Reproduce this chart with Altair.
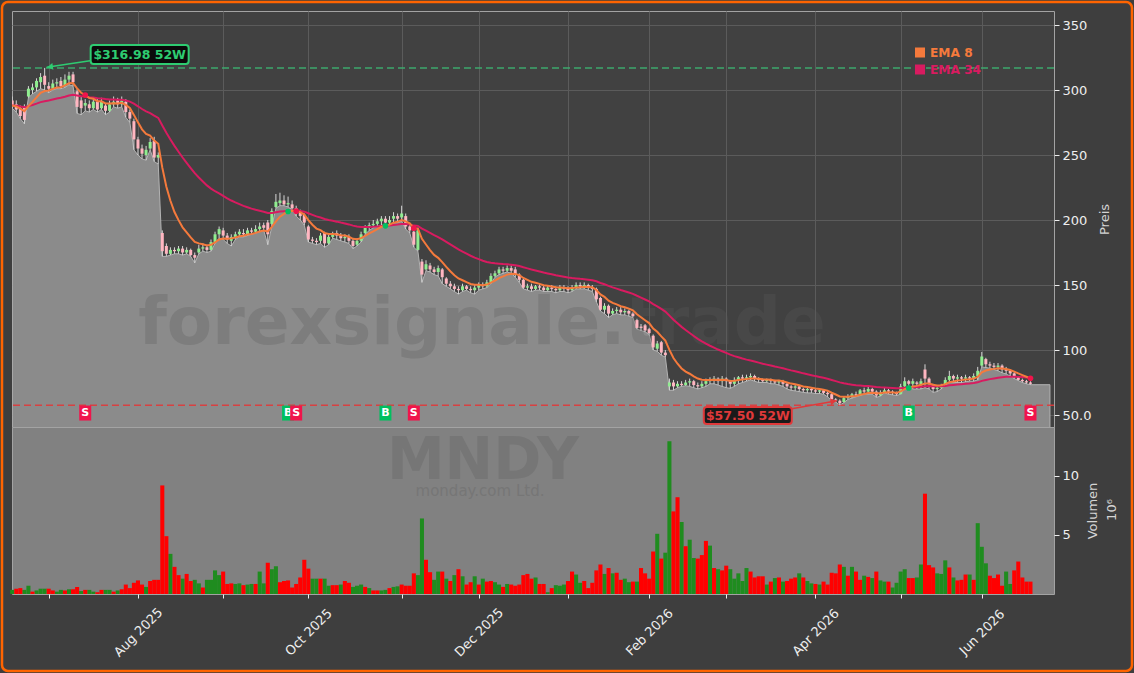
import altair as alt
import pandas as pd
import numpy as np

# ---------------- data ----------------
trade_start = "2025-06-17"
trade_end = "2026-06-17"
market_holidays = ["2025-06-19", "2025-07-04", "2025-09-01", "2025-11-27", "2025-12-25",
                   "2026-01-01", "2026-01-19", "2026-02-16", "2026-04-03", "2026-05-25"]

opens = [
    292, 289, 286, 287, 295, 300, 302, 306, 311, 303,
    301, 305, 307, 303, 308, 312, 299, 292, 288, 289,
    286, 291, 286, 288, 284, 289, 292, 289, 291, 283,
    276, 262, 255, 250, 255, 261, 248, 190, 180, 174,
    177, 176, 178, 175, 177, 173, 175, 178, 179, 177,
    183, 189, 192, 188, 184, 187, 189, 190, 189, 192,
    191, 193, 196, 198, 197, 210, 213, 215, 212, 212,
    209, 207, 204, 195, 185, 184, 184, 190, 182, 187,
    190, 188, 186, 187, 184, 181, 184, 190, 194, 196,
    197, 199, 201, 198, 201, 203, 202, 203, 195, 191,
    177, 168, 162, 165, 162, 160, 162, 155, 151, 149,
    147, 146, 149, 147, 146, 148, 150, 149, 152, 157,
    159, 162, 161, 163, 162, 158, 154, 148, 149, 147,
    149, 148, 146, 148, 147, 146, 148, 147, 146, 148,
    150, 149, 150, 148, 147, 140, 131, 134, 128, 130,
    131, 129, 130, 128, 123, 118, 119, 116, 111, 101,
    106, 98, 72, 75, 72, 74, 73, 75, 76, 73,
    72, 74, 76, 77, 78, 76, 78, 76, 74, 77,
    79, 78, 79, 80, 78, 77, 76, 77, 76, 75,
    76, 74, 72, 71, 72, 70, 69, 70, 69, 68,
    69, 67, 66, 62, 61, 60, 63, 64, 66, 65,
    69, 68, 70, 68, 65, 67, 69, 68, 67, 66,
    72, 76, 74, 75, 73, 85, 78, 73, 70, 71,
    73, 77, 80, 78, 79, 78, 79, 78, 80, 88,
    93, 89, 88, 87, 88, 85, 84, 82, 79, 77,
    76, 75,
]
highs = [
    295, 292, 288, 289, 303, 305, 309, 313, 316.98, 306,
    308, 309, 310, 312, 314, 314, 301, 295, 293, 292,
    294, 293, 294, 290, 292, 295, 294, 295, 293, 285,
    278, 264, 258, 257, 263, 264, 252, 192, 182, 179,
    179, 180, 180, 179, 178, 175, 181, 182, 181, 185,
    191, 195, 194, 190, 189, 191, 193, 193, 194, 194,
    196, 198, 198, 200, 209, 220, 221, 219, 218, 215,
    211, 208, 205, 196, 187, 186, 190, 191, 189, 191,
    192, 190, 189, 189, 186, 186, 191, 196, 198, 200,
    201, 203, 203, 203, 206, 205, 211, 205, 197, 192,
    194, 170, 169, 167, 164, 165, 163, 156, 153, 151,
    149, 151, 150, 149, 150, 152, 152, 154, 159, 161,
    164, 164, 165, 165, 164, 159, 155, 151, 151, 150,
    151, 150, 150, 150, 149, 150, 150, 149, 150, 152,
    152, 152, 151, 150, 148, 141, 136, 135, 132, 133,
    133, 132, 131, 129, 124, 120, 120, 117, 112, 107,
    107, 100, 78, 77, 76, 76, 77, 78, 77, 75,
    76, 78, 79, 80, 79, 80, 79, 77, 79, 80,
    81, 81, 82, 81, 79, 78, 78, 78, 77, 77,
    77, 75, 73, 73, 73, 71, 71, 71, 70, 70,
    70, 68, 67, 63, 62, 64, 66, 67, 68, 70,
    71, 72, 71, 69, 69, 71, 70, 69, 68, 74,
    79, 77, 78, 76, 78, 89, 79, 74, 73, 74,
    79, 84, 81, 81, 80, 81, 80, 82, 87, 98.5,
    94, 91, 90, 90, 89, 87, 85, 83, 80, 78,
    77, 76,
]
lows = [
    286, 283, 278, 274, 294, 297, 299, 301, 300, 298,
    300, 301, 301, 302, 304, 303, 282, 281, 284, 283,
    285, 283, 285, 281, 283, 287, 286, 287, 279, 275,
    254, 250, 247, 246, 254, 245, 243, 172, 172, 173,
    174, 174, 173, 174, 172, 167, 174, 176, 175, 176,
    182, 186, 185, 182, 180, 185, 187, 187, 188, 189,
    190, 191, 192, 181, 195, 209, 211, 211, 210, 208,
    203, 200, 196, 183, 182, 181, 182, 179, 181, 186,
    185, 184, 183, 182, 178, 180, 183, 189, 192, 194,
    195, 196, 196, 196, 198, 198, 199, 193, 190, 179,
    176, 152, 161, 160, 158, 157, 151, 149, 147, 145,
    143, 145, 146, 144, 143, 146, 147, 148, 151, 156,
    158, 159, 160, 159, 156, 152, 147, 146, 145, 146,
    146, 145, 145, 145, 144, 145, 145, 144, 145, 147,
    147, 147, 146, 145, 137, 130, 128, 125, 127, 128,
    127, 127, 126, 125, 116, 115, 114, 112, 100, 99,
    96, 94.5, 69, 69, 71, 72, 72.5, 72, 71, 70,
    71, 72, 74, 74, 73, 72, 71, 70.5, 72, 74,
    75, 76, 77, 76, 75, 75, 75, 74, 74, 73,
    72, 70, 69, 68.5, 68, 67.4, 67, 67, 66.5, 66.5,
    66, 64, 61, 60, 57.5, 59.5, 62, 63, 64, 65,
    66, 66, 66, 63.6, 64.5, 67, 66, 65.5, 65, 66,
    71, 71, 70, 70, 70, 71, 70, 67.4, 68, 70,
    73, 75, 75, 75, 75, 75.6, 76, 76, 77, 87,
    86.5, 86, 85, 84, 82.5, 81.5, 80, 78, 76.5, 75,
    74, 73.3,
]
closes = [
    288, 285, 280, 277, 301, 302, 307, 310, 304, 301,
    305, 306, 303, 308, 311, 306, 287, 286, 290, 286,
    291, 285, 291, 284, 289, 291, 289, 292, 283, 278,
    262, 255, 251, 254, 260, 248, 250, 176, 174, 177,
    176, 178, 175, 177, 173, 171, 178, 179, 177, 183,
    189, 193, 188, 185, 187, 189, 191, 189, 192, 191,
    193, 195, 194, 189, 207, 214, 215, 212, 213, 209,
    206, 203, 198, 185, 184, 183, 188, 182, 187, 189,
    188, 186, 187, 184, 180, 184, 189, 194, 196, 197,
    199, 201, 198, 200, 203, 201, 205, 195, 192, 181,
    192, 158, 166, 162, 160, 163, 156, 151, 149, 147,
    146, 149, 147, 146, 148, 150, 149, 152, 157, 159,
    162, 161, 163, 161, 158, 154, 148, 149, 147, 149,
    148, 146, 148, 147, 146, 148, 147, 146, 148, 150,
    149, 150, 148, 147, 139, 131, 134, 128, 130, 131,
    129, 130, 128, 126, 117, 117, 115, 113, 102, 105,
    98, 96, 75, 72, 74, 73, 75, 76, 73, 72,
    74, 76, 77, 78, 76, 78, 76, 74, 77, 79,
    78, 79, 80, 78, 77, 76, 77, 76, 75, 76,
    74, 72, 71, 72, 70, 69, 70, 69, 68, 69,
    67, 66, 62, 61, 59, 63, 64, 66, 65, 69,
    68, 70, 68, 65, 67, 69, 68, 67, 66, 72,
    76, 74, 76, 74, 76, 78, 74, 70, 71, 73,
    77, 80, 78, 79, 78, 79, 78, 80, 84, 95,
    89, 88, 87, 88, 85, 84, 82, 79, 77, 76,
    75, 74,
]
volumes = [  # in millions
    .35, .45, .5, .35, .7, .2, .3, .45, .45, .45,
    .3, .2, .35, .3, .4, .4, .6, .25, .35, .35,
    .2, .15, .35, .35, .35, .2, .3, .4, .8, .5,
    .95, 1.15, .8, .6, 1.1, 1.2, 1.2, 9.2, 4.9, 3.4,
    2.3, 1.6, 1.3, 1.7, 1.1, 1.2, .9, .55, 1.2, 1.2,
    2.0, 1.6, 1.9, .85, .9, .85, .9, .75, .8, .85,
    .85, 1.9, .9, 2.65, 2.1, 2.35, 1.0, 1.1, 1.15, .55,
    .85, 1.4, 2.9, 2.15, 1.3, 1.3, 1.3, 1.3, .7, .75,
    .75, .8, 1.1, .95, .6, .7, .8, .6, .5, .3,
    .3, .3, .35, .5, .6, .65, .8, .7, .7, 1.75,
    1.6, 6.4, 2.9, 1.85, 1.2, 1.9, 1.9, 1.3, 1.1, 1.6,
    2.1, 1.5, .8, 1.0, 1.5, .8, 1.3, 1.05, 1.1, 1.0,
    .8, .6, .85, .8, .7, .8, 1.6, 1.7, 1.3, 1.4,
    .85, .85, .15, .5, .75, .7, .8, 1.1, 1.9, 1.65,
    .95, 1.1, .5, .95, 2.0, 2.5, 1.7, 2.2, 1.75, 1.8,
    1.2, 1.3, 1.0, 1.05, 1.05, 2.2, 1.75, 1.3, 3.6, 5.1,
    3.0, 3.5, 12.95, 7.0, 8.2, 6.1, 4.05, 4.6, 3.05, 3.0,
    3.3, 4.5, 4.1, 2.2, 2.1, 2.0, 2.4, 2.1, 1.3, 1.75,
    1.1, 2.2, 1.9, 1.4, 1.5, 1.5, .8, 1.05, 1.35, 1.4,
    1.05, 1.1, 1.3, 1.4, 1.75, 1.4, 1.1, .9, .85, .8,
    1.05, .8, 1.8, 1.75, 2.5, 2.3, 1.55, 2.3, 1.9, 1.2,
    1.55, 1.45, 1.35, 1.9, 1.15, 1.05, 1.05, .55, .95, 1.9,
    2.1, 1.35, 1.35, 1.4, 2.5, 8.5, 2.45, 2.25, 1.75, 1.7,
    2.85, 2.25, 1.4, 1.15, 1.2, 1.65, 1.65, 1.2, 6.0, 4.0,
    2.6, 1.55, 1.35, 1.65, .7, 1.9, .85, 2.0, 2.75, 1.4,
    1.05, 1.05,
]
vol_dir = "".join([
    "grrggrgggr", "rggrgrrgrg", "grrggrgrrr", "rrrgrrrrrg", "rrgrrggrgg",
    "ggrrrggrgg", "rggrggrrrr", "rrrrggrggr", "rgrrgggrgr", "rggrggrrrr",
    "ggrrggrgrg", "rgrrgrgrrg", "grgrrrrrrg", "rrgrgggrrg", "grrrrrgrgr",
    "rggrgrrrrg", "rggrrgrggr", "rrgrgrrggg", "ggrrrrgrgr", "grrrgrggrg",
    "rrrrrgrgrr", "grgrggrggg", "grrggrrrgg", "grgrrrgrgg", "grrrrggrrr",
    "rr",
])

signal_idx = [18, 68, 70, 92, 99, 221, 251]
signal_type = ["S", "B", "S", "B", "S", "B", "S"]
high52_idx, high52 = 8, 316.98
low52_idx, low52 = 204, 57.50
price_ticks = [50, 100, 150, 200, 250, 300, 350]
volume_ticks = [5, 10]
labeled_months = ["Aug 2025", "Oct 2025", "Dec 2025", "Feb 2026", "Apr 2026", "Jun 2026"]
ema_spans = [8, 34]
volume_unit = "10⁶"

# ---------------- styling / layout constants ----------------
FONT = "DejaVu Sans"
BG = "#3e3e3e"
PANEL = "#414141"
GRID = "#5b5b5b"
AREA_FILL = "#8b8b8b"
AREA_EDGE = "#b3b3b3"
VOL_BG = "#818181"
FRAME = "#a3a3a3"
TXT = "#eeeeee"
TITLE_C = "#d4d4d4"
UP_BODY, DOWN_BODY, WICK = "#90ee90", "#ffb6c1", "#d6d6d6"
EMA8_C, EMA34_C = "#f57a3c", "#d81b60"
VOL_UP, VOL_DOWN = "#1f8c1f", "#ff0000"
BUY_C, SELL_C = "#00c060", "#f0144b"
HI_C, LO_C = "#3cb371", "#e0393a"
BORDER_C = "#ff6400"
WM_C = "#5a5a5a"

PW, PH, VH = 1042, 416, 167
X_DOM = [-0.05, 256.8]
Y_DOM = [40.77, 360.77]
V_DOM = [0, 14.15]
AREA_TAIL = 4.8
SIG_Y = 51.5

# ---------------- frames ----------------
dates = pd.bdate_range(trade_start, trade_end, freq="C", holidays=market_holidays)
N = len(closes)
assert len(dates) == N == len(opens) == len(highs) == len(lows) == len(volumes) == len(vol_dir), \
    (len(dates), len(opens), len(highs), len(lows), len(closes), len(volumes), len(vol_dir))

df = pd.DataFrame({"i": np.arange(N), "open": opens, "high": highs, "low": lows,
                   "close": closes})
df["dir"] = np.where(df["close"] >= df["open"], "up", "down")
cs = pd.Series(closes, dtype=float)
df["ema8"] = cs.ewm(span=ema_spans[0], adjust=False).mean()
df["ema34"] = cs.ewm(span=ema_spans[1], adjust=False).mean()

area_df = pd.concat([df[["i", "low"]],
                     pd.DataFrame({"i": [N - 1 + AREA_TAIL], "low": [lows[-1]]})],
                    ignore_index=True)

vol_df = pd.DataFrame({"i": np.arange(N), "vol": volumes, "vdir": list(vol_dir)})
vol_df["lo"] = vol_df["i"] - 0.5
vol_df["hi"] = vol_df["i"] + 0.5

sig_df = pd.DataFrame({"i": signal_idx, "type": signal_type})
sig_df["ema"] = [df["ema8"][k] for k in signal_idx]
sig_df["y"] = SIG_Y

months = dates.to_period("M")
month_idx = [k for k in range(1, N) if months[k] != months[k - 1]]
month_lab = {k: dates[k].strftime("%b %Y") for k in month_idx}
label_expr = " : ".join(f"datum.value == {k} ? '{month_lab[k]}'"
                        for k in month_idx if month_lab[k] in labeled_months) + " : ''"

hi_df = pd.DataFrame({"i": [high52_idx], "p": [high52], "t": [f"${high52:.2f} 52W"]})
lo_df = pd.DataFrame({"i": [low52_idx], "p": [low52], "t": [f"${low52:.2f} 52W"]})

xs = alt.Scale(domain=X_DOM, nice=False, zero=False, padding=0)
ys = alt.Scale(domain=Y_DOM, nice=False, zero=False, padding=0)
vs = alt.Scale(domain=V_DOM, nice=False, zero=False, padding=0)

ax_px = alt.Axis(values=month_idx, grid=True, gridColor=GRID, gridWidth=1, labels=False,
                 ticks=False, domain=False, title=None)
ax_py = alt.Axis(orient="right", values=price_ticks, grid=True, gridColor=GRID, gridWidth=1,
                 title="Preis", titleAngle=270, titleBaseline="top", titlePadding=8,
                 labelExpr="datum.value == 50 ? '50.0' : datum.label",
                 tickSize=5, labelPadding=3, domain=False)


def X(f="i"):
    return alt.X(f"{f}:Q", scale=xs, axis=ax_px)


def Y(f):
    return alt.Y(f"{f}:Q", scale=ys, axis=ax_py)


area = alt.Chart(area_df).mark_area(fill=AREA_FILL, stroke=AREA_EDGE, strokeWidth=1,
                                    opacity=1, clip=True).encode(x=X(), y=Y("low"))

wm = alt.Chart(pd.DataFrame({"t": ["forexsignale.trade"]})).mark_text(
    font=FONT, fontWeight="bold", fontSize=66, color=WM_C, opacity=0.28,
    align="center", baseline="alphabetic").encode(
    x=alt.value(470), y=alt.value(333), text="t:N")

hline_hi = alt.Chart(hi_df).mark_rule(color=HI_C, strokeDash=[7, 4], strokeWidth=1.6,
                                      opacity=0.9).encode(y=Y("p"))
hline_lo = alt.Chart(lo_df).mark_rule(color=LO_C, strokeDash=[7, 4], strokeWidth=1.6,
                                      opacity=0.9).encode(y=Y("p"))

wicks = alt.Chart(df).mark_rule(color=WICK, strokeWidth=1, clip=True).encode(
    x=X(), y=Y("low"), y2="high:Q")
body_up = alt.Chart(df).transform_filter("datum.dir == 'up'").mark_bar(
    size=3, color=UP_BODY, clip=True).encode(x=X(), y=Y("open"), y2="close:Q")
body_dn = alt.Chart(df).transform_filter("datum.dir == 'down'").mark_bar(
    size=3, color=DOWN_BODY, clip=True).encode(x=X(), y=Y("open"), y2="close:Q")

ema34_line = alt.Chart(df).mark_line(color=EMA34_C, strokeWidth=2, clip=True).encode(
    x=X(), y=Y("ema34"))
ema8_line = alt.Chart(df).mark_line(color=EMA8_C, strokeWidth=2, clip=True).encode(
    x=X(), y=Y("ema8"))


def sig_layers(kind, col):
    base = alt.Chart(sig_df).transform_filter(f"datum.type == '{kind}'")
    dot = base.mark_circle(size=32, color=col, opacity=1).encode(x=X(), y=Y("ema"))
    box = base.mark_rect(width=12, height=15, color=col).encode(x=X(), y=Y("y"))
    txt = base.mark_text(font=FONT, fontWeight="bold", fontSize=11, color="white",
                         baseline="middle", align="center").encode(
        x=X(), y=Y("y"), text="type:N")
    return [dot, box, txt]


def label_layers(d, col, fill, box_dx, box_dy, bw, bh, tip, tail, ang):
    base = alt.Chart(d)
    hx, hy = tip
    tx, ty = tail
    ux, uy = (hx - tx), (hy - ty)
    L = (ux ** 2 + uy ** 2) ** 0.5
    cx, cy = hx - 3.4 * ux / L, hy - 3.4 * uy / L
    arrow = base.mark_rule(color=col, strokeWidth=1.6, xOffset=hx, yOffset=hy,
                           x2Offset=tx, y2Offset=ty).encode(
        x=X(), y=Y("p"), x2="i:Q", y2="p:Q")
    head = base.mark_point(shape="triangle-up", filled=True, size=45, color=col, opacity=1,
                           angle=ang, xOffset=cx, yOffset=cy).encode(x=X(), y=Y("p"))
    box = base.mark_rect(width=bw, height=bh, fill=fill, stroke=col, strokeWidth=2,
                         cornerRadius=3, xOffset=box_dx, yOffset=box_dy).encode(
        x=X(), y=Y("p"))
    txt = base.mark_text(font=FONT, fontWeight="bold", fontSize=12.5, color=col,
                         align="center", baseline="middle",
                         xOffset=box_dx, yOffset=box_dy + 0.5).encode(
        x=X(), y=Y("p"), text="t:N")
    return [arrow, head, box, txt]


hi_lab = label_layers(hi_df, "#2ecc71", "#0b0b0b", 95, -13.4, 98, 19,
                      (2, -0.6), (45.4, -7.2), 261)
lo_lab = label_layers(lo_df, LO_C, "#1a1a1a", -92, 10.3, 88, 17,
                      (-3, -4.5), (-48, 3.5), 80)

leg_df = pd.DataFrame({"name": ["EMA 8", "EMA 34"], "col": [EMA8_C, EMA34_C]})
leg_layers = []
for k, (nm, col) in enumerate(zip(leg_df["name"], leg_df["col"])):
    sub = alt.Chart(leg_df).transform_filter(f"datum.name == '{nm}'")
    leg_layers.append(sub.mark_square(size=100, color=col, opacity=1).encode(
        x=alt.value(908), y=alt.value(41.5 + 17 * k)))
    leg_layers.append(sub.mark_text(font=FONT, fontWeight="bold", fontSize=12.2, color=col,
                                    align="left", baseline="middle").encode(
        x=alt.value(918), y=alt.value(41.5 + 17 * k), text="name:N"))

border = alt.Chart(pd.DataFrame({"k": [0]})).mark_rect(
    fillOpacity=0, stroke=BORDER_C, strokeWidth=2.5, cornerRadius=6).encode(
    x=alt.value(-10), x2=alt.value(1120), y=alt.value(-9), y2=alt.value(660))

price = alt.layer(
    area, wm, hline_lo, wicks, body_up, body_dn, ema34_line, ema8_line, hline_hi,
    *sig_layers("B", BUY_C), *sig_layers("S", SELL_C),
    *hi_lab, *lo_lab, *leg_layers, border,
).properties(width=PW, height=PH, view=alt.ViewBackground(fill=PANEL, stroke=FRAME,
                                                           strokeWidth=1))

# ---------------- volume panel ----------------
ax_vx = alt.Axis(values=month_idx, grid=False, labelExpr=label_expr, labelAngle=-45,
                 labelAlign="center", labelBaseline="middle", labelPadding=34,
                 tickSize=4, labelOverlap=False, labelFlush=False, labelBound=False,
                 domain=False, title=None)
ax_vy = alt.Axis(orient="right", values=volume_ticks, grid=False, title="Volumen",
                 titleAngle=270, titleBaseline="top", titlePadding=8,
                 tickSize=5, labelPadding=3, domain=False)

vbase = alt.Chart(vol_df)
vol_g = vbase.transform_filter("datum.vdir == 'g'").mark_bar(color=VOL_UP).encode(
    x=alt.X("lo:Q", scale=xs, axis=ax_vx), x2="hi:Q",
    y=alt.Y("vol:Q", scale=vs, axis=ax_vy), y2=alt.datum(0))
vol_r = vbase.transform_filter("datum.vdir == 'r'").mark_bar(color=VOL_DOWN).encode(
    x=alt.X("lo:Q", scale=xs, axis=ax_vx), x2="hi:Q",
    y=alt.Y("vol:Q", scale=vs, axis=ax_vy), y2=alt.datum(0))

unit_txt = alt.Chart(pd.DataFrame({"t": [volume_unit]})).mark_text(
    font=FONT, fontSize=13, color=TITLE_C, angle=270, align="center",
    baseline="middle").encode(x=alt.value(1100), y=alt.value(83), text="t:N")

wm2 = alt.Chart(pd.DataFrame({"t": ["MNDY"]})).mark_text(
    font=FONT, fontWeight="bold", fontSize=58, color=WM_C, opacity=0.28,
    align="center", baseline="alphabetic").encode(
    x=alt.value(471), y=alt.value(52), text="t:N")
wm3 = alt.Chart(pd.DataFrame({"t": ["monday.com Ltd."]})).mark_text(
    font=FONT, fontSize=15, color=WM_C, opacity=0.28,
    align="center", baseline="alphabetic").encode(
    x=alt.value(468), y=alt.value(69), text="t:N")

volume = alt.layer(wm2, wm3, vol_g, vol_r, unit_txt).properties(
    width=PW, height=VH, view=alt.ViewBackground(fill=VOL_BG, stroke=FRAME, strokeWidth=1))

chart = alt.vconcat(price, volume, spacing=0, bounds="flush", padding=0).configure(
    background=BG, font=FONT,
).configure_axis(
    labelFont=FONT, titleFont=FONT, labelFontSize=13, titleFontSize=13,
    labelColor=TXT, tickColor=TXT, titleColor=TITLE_C, titleFontWeight="normal",
)

chart.save("out.html", embed_options={"renderer": "svg", "actions": False})
